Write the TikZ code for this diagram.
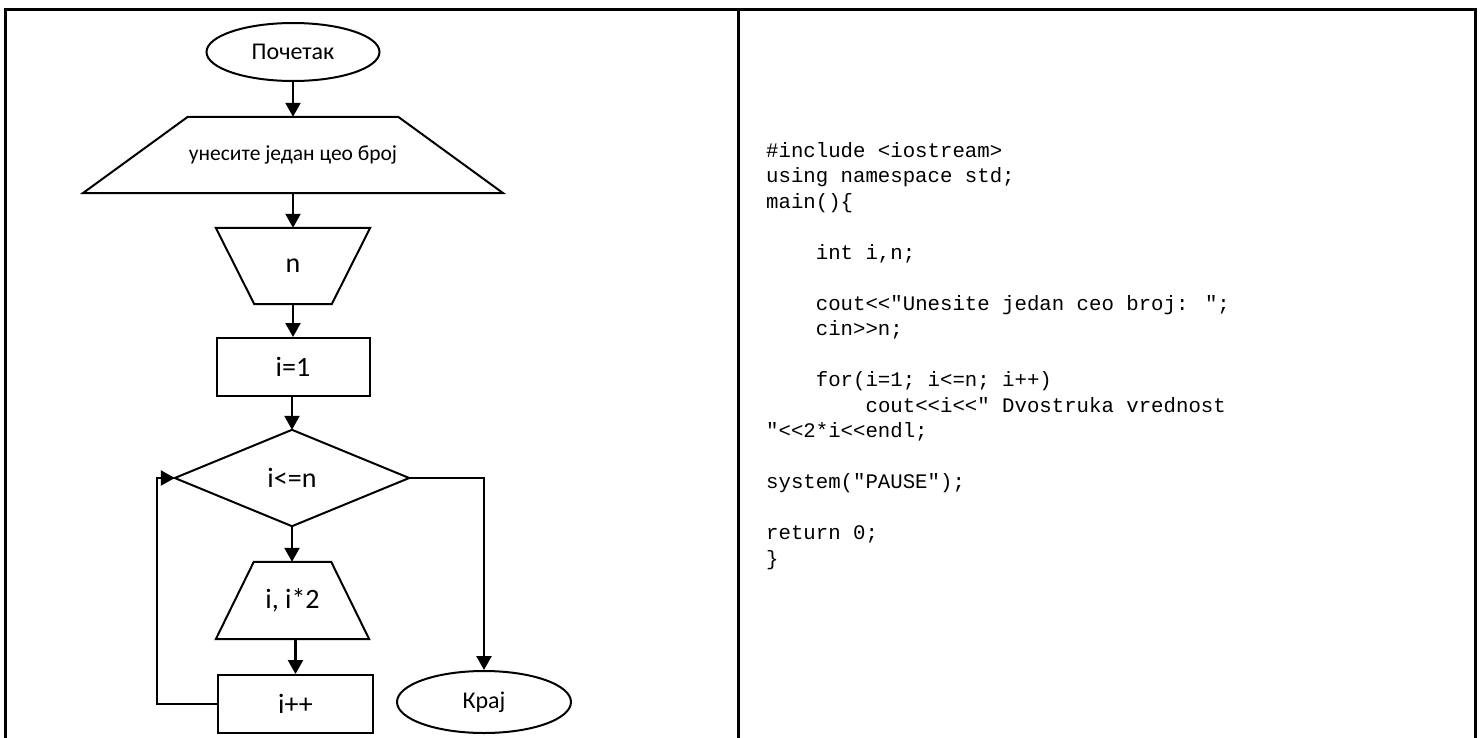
\documentclass[tikz,border=0pt]{standalone}
\usepackage{fontspec}
\setmainfont{Carlito}
\newfontfamily\codefont{Liberation Mono}[Ligatures=TeXOff]
\usetikzlibrary{shapes.geometric,arrows.meta}
\newcommand\termsize{\fontsize{24pt}{28pt}\selectfont}
\newcommand\inpsize{\fontsize{21.5pt}{26pt}\selectfont}
\newcommand\flowsize{\fontsize{28pt}{32pt}\selectfont}
\newcommand\codesize{\codefont\fontsize{20.7pt}{25.5pt}\selectfont}
\newcommand\ind{\phantom{0000}}
\tikzset{
  shapeline/.style={draw=black, line width=2pt},
  box/.style={rectangle, draw=none, inner sep=0pt, font=\flowsize},
  procbox/.style={rectangle, shapeline, inner sep=0pt, minimum height=58pt, font=\flowsize},
  termbox/.style={ellipse, shapeline, inner sep=0pt, font=\termsize},
  flowarrow/.style={line width=2.4pt, -{Triangle[length=14pt,width=15pt]}},
  frameline/.style={line width=3pt},
  codeline/.style={anchor=base west, inner sep=0pt, font=\codesize}
}
\begin{document}
\begin{tikzpicture}[x=1pt,y=-1pt]
\useasboundingbox (0,0) rectangle (1481,737);
% frame
\coordinate (tl) at (5,9);
\coordinate (tr) at (1475,9);
\coordinate (bl) at (5,740);
\coordinate (br) at (1475,740);
\coordinate (dt) at (738,9);
\coordinate (db) at (738,740);
\draw[frameline] (bl) -- (tl) -- (tr) -- (br);
\draw[frameline] (dt) -- (db);

% flowchart nodes
\node[termbox, minimum width=173pt, minimum height=58pt] (start) at (293,52) {Почетак};
\node[box, font=\inpsize, minimum width=420pt, minimum height=76pt] (inp) at (293,155) {унесите један цео број};
\draw[shapeline, line join=miter] ([xshift=105pt]inp.north west) -- ([xshift=-105pt]inp.north east) -- (inp.south east) -- (inp.south west) -- cycle;
\node[box, minimum width=154pt, minimum height=76pt] (rd) at (293,266) {n};
\draw[shapeline] (rd.north west) -- (rd.north east) -- ([xshift=-38.5pt]rd.south east) -- ([xshift=38.5pt]rd.south west) -- cycle;
\node[procbox, minimum width=153pt] (init) at (293,367) {i=1};
\node[box, minimum width=234pt, minimum height=96pt] (dec) at (292,478) {i<=n};
\draw[shapeline] (dec.north) -- (dec.east) -- (dec.south) -- (dec.west) -- cycle;
\node[box, minimum width=153pt, minimum height=77pt] (out) at (292.5,600.5) {i, i*2};
\draw[shapeline] ([xshift=38pt]out.north west) -- ([xshift=-38pt]out.north east) -- (out.south east) -- (out.south west) -- cycle;
\node[procbox, minimum width=155pt] (inc) at (295.5,704) {i++};
\node[termbox, minimum width=174pt, minimum height=62pt] (fin) at (484,702) {Крај};

% connectors
\draw[flowarrow] (start.south) -- (inp.north);
\draw[flowarrow] (inp.south) -- (rd.north);
\draw[flowarrow] (rd.south) -- (init.north);
\draw[flowarrow] (init.south -| dec.north) -- (dec.north);
\draw[flowarrow] (dec.south) -- (dec.south |- out.north);
\draw[flowarrow] (out.south -| inc.north) -- (inc.north);
\draw[flowarrow] (inc.west) -- ++(-60pt,0) |- (dec.west);
\draw[flowarrow] (dec.east) -| (fin.north);

% code
\node[codeline] (c0) at (766,157) {\#include <iostream>};
\node[codeline] (c1) at (766,182.5) {using namespace std;};
\node[codeline] (c2) at (766,208) {main()\{};
\node[codeline] (c4) at (766,259) {\ind int i,n;};
\node[codeline] (c6) at (766,310) {\ind cout<<"Unesite jedan ceo broj: ";};
\node[codeline] (c7) at (766,335.5) {\ind cin>>n;};
\node[codeline] (c9) at (766,386.5) {\ind for(i=1; i<=n; i++)};
\node[codeline] (c10) at (766,412) {\ind\ind cout<<i<<" Dvostruka vrednost};
\node[codeline] (c11) at (766,437.5) {"<<2*i<<endl;};
\node[codeline] (c13) at (766,488.5) {system("PAUSE");};
\node[codeline] (c15) at (766,539.5) {return 0;};
\node[codeline] (c16) at (766,565) {\}};
\end{tikzpicture}
\end{document}
